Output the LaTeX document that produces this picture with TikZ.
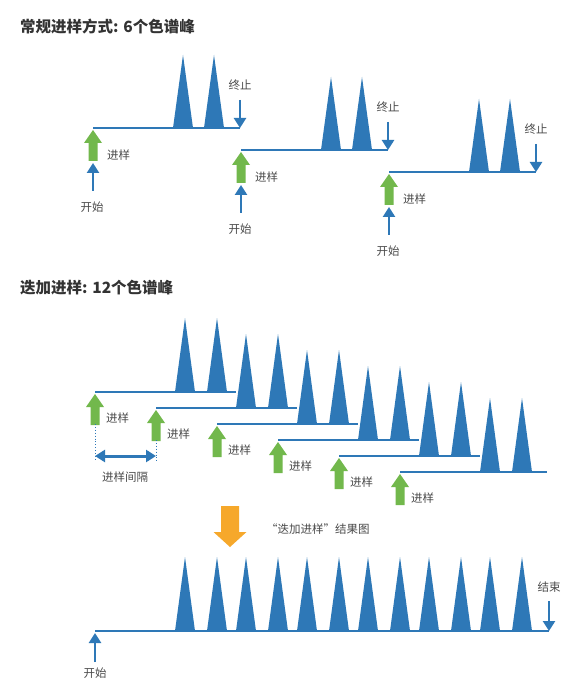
\documentclass[tikz,border=0pt]{standalone}
\usepackage{fontspec}
\setmainfont{Noto Sans CJK SC}
\usetikzlibrary{arrows.meta}
\definecolor{pkblue}{HTML}{2E78B7}
\definecolor{arrgreen}{HTML}{72B84C}
\definecolor{orng}{HTML}{F6A82B}
\definecolor{txt}{HTML}{333333}
\definecolor{lbl}{HTML}{4A4A4A}
\tikzset{
  baseline line/.style={draw=pkblue, line width=2pt},
  peakfill/.style={fill=pkblue},
  gfill/.style={fill=arrgreen},
  blueline/.style={draw=pkblue, line width=2.4pt, -{Triangle[width=12pt,length=10pt]}},
  dblarrow/.style={draw=pkblue, line width=3pt, {Triangle[width=12pt,length=10pt]}-{Triangle[width=12pt,length=10pt]}},
  dots/.style={draw=pkblue, line width=0.9pt, dotted},
  titletext/.style={font=\bfseries\fontsize{15.5}{18}\selectfont, text=txt, anchor=west, inner sep=0pt},
  labtext/.style={font=\fontsize{11.5}{13}\selectfont, text=lbl, inner sep=0pt},
}
\newcommand\mypeak[3]{\fill[peakfill] (#1-10,#2) -- (#1,#3) -- (#1+10,#2) -- cycle;}
\newcommand\mygreen[2]{\fill[gfill, shift={(#1,#2)}] (0,0) -- (9,13) -- (4.5,13) -- (4.5,31) -- (-4.5,31) -- (-4.5,13) -- (-9,13) -- cycle;}
\begin{document}
\begin{tikzpicture}[x=1pt,y=-1pt]
\useasboundingbox[fill=white] (0,0) rectangle (580,700);

% ---------- Section 1 ----------
\node[titletext] (t1) at (20,27) {常规进样方式: 6个色谱峰};
\foreach \g in {0,1,2}{
  \pgfmathsetmacro\dx{148*\g}
  \pgfmathsetmacro\dy{22*\g}
  \coordinate (s\g) at (93+\dx,128+\dy);
  \coordinate (e\g) at (240+\dx,128+\dy);
  \draw[baseline line] (s\g) -- (e\g);
  \mypeak{183+\dx}{128+\dy}{55+\dy}
  \mypeak{214+\dx}{128+\dy}{55+\dy}
  \node[labtext] (stop\g) at (240+\dx,85+\dy) {终止};
  \coordinate (stoptop\g) at (240+\dx,100+\dy);
  \draw[blueline] (stoptop\g) -- (e\g);
  \mygreen{93+\dx}{130+\dy}
  \node[labtext, anchor=west] (inj\g) at (107+\dx,155+\dy) {进样};
  \coordinate (sb\g) at (93+\dx,191+\dy);
  \coordinate (st\g) at (93+\dx,163+\dy);
  \draw[blueline] (sb\g) -- (st\g);
  \node[labtext] (start\g) at (92+\dx,207+\dy) {开始};
}

% ---------- Section 2 ----------
\node[titletext] (t2) at (20,288) {迭加进样: 12个色谱峰};
\foreach \i in {0,...,5}{
  \pgfmathsetmacro\dx{61*\i}
  \pgfmathsetmacro\dy{16*\i}
  \pgfmathsetmacro\ex{\i<5 ? 236+\dx : 547}
  \coordinate (ls\i) at (95+\dx,392+\dy);
  \coordinate (le\i) at (\ex,392+\dy);
  \draw[baseline line] (ls\i) -- (le\i);
}
\foreach \i in {0,...,5}{
  \pgfmathsetmacro\dx{61*\i}
  \pgfmathsetmacro\dy{16*\i}
  \mypeak{185+\dx}{392+\dy}{318+\dy}
  \mypeak{217+\dx}{392+\dy}{318+\dy}
  \mygreen{95+\dx}{394+\dy}
  \node[labtext, anchor=west] (sinj\i) at (106+\dx,418+\dy) {进样};
}
\coordinate (d1t) at (95,424);
\coordinate (d1b) at (95,461);
\coordinate (d2t) at (156,440);
\coordinate (d2b) at (156,461);
\draw[dots] (d1t) -- (d1b);
\draw[dots] (d2t) -- (d2b);
\coordinate (da) at (95,456);
\coordinate (db) at (156,456);
\draw[dblarrow] (da) -- (db);
\node[labtext] (gap) at (125,477) {进样间隔};

% ---------- Orange arrow ----------
\fill[orng, shift={(230,506)}] (-9,0) -- (9,0) -- (9,26) -- (16.5,26) -- (0,41) -- (-16.5,26) -- (-9,26) -- cycle;
\node[labtext, anchor=west] (res) at (266,529) {“迭加进样”结果图};

% ---------- Section 3 ----------
\coordinate (bs) at (95,631);
\coordinate (be) at (549,631);
\draw[baseline line] (bs) -- (be);
\foreach \i in {0,...,5}{
  \pgfmathsetmacro\dx{61*\i}
  \mypeak{185+\dx}{631}{557}
  \mypeak{217+\dx}{631}{557}
}
\node[labtext] (endl) at (549,587) {结束};
\coordinate (endtop) at (549,601);
\draw[blueline] (endtop) -- (be);
\coordinate (bsb) at (95,662);
\coordinate (bst) at (95,633);
\draw[blueline] (bsb) -- (bst);
\node[labtext] (bstart) at (95,673) {开始};
\end{tikzpicture}
\end{document}
